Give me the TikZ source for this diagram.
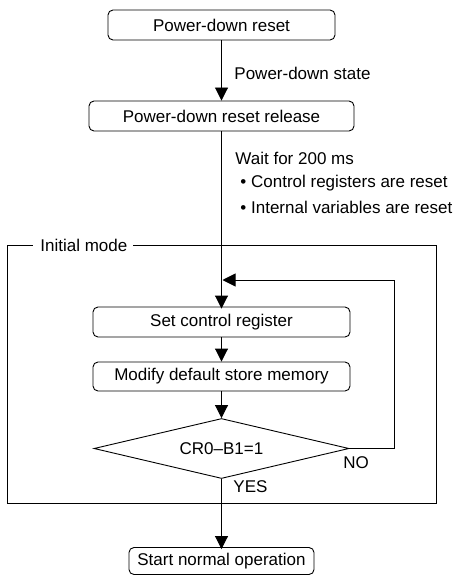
\documentclass[tikz,border=0pt]{standalone}
\usepackage{fontspec}
\setmainfont{Liberation Sans}
\usetikzlibrary{arrows.meta,shapes.geometric}
\begin{document}
\begin{tikzpicture}[x=1pt,y=-1pt,
  font=\fontsize{17}{20}\selectfont,
  every path/.style={line width=0.9pt},
  box/.style={draw,rounded corners=5pt,inner sep=0pt,line width=0.9pt},
  dec/.style={draw,diamond,shape aspect=4.25,inner sep=0pt,minimum width=255pt,minimum height=60pt,line width=0.9pt},
  lbl/.style={anchor=west,inner sep=0pt},
  arr/.style={-{Triangle[length=13pt,width=13pt]}},
]
\useasboundingbox (0,0) rectangle (458,575);
\node[box,minimum width=227pt,minimum height=30pt] (r1) at (221.5,25) {Power-down reset};
\node[box,minimum width=265pt,minimum height=30pt] (r2) at (221.5,116) {Power-down reset release};
\node[box,minimum width=257pt,minimum height=30pt] (r3) at (221.5,322) {Set control register};
\node[box,minimum width=257pt,minimum height=29pt] (r4) at (221.5,376.5) {Modify default store memory};
\node[dec] (d) at (221.5,448.5) {CR0--B1=1};
\node[box,minimum width=185pt,minimum height=27pt] (r5) at (221.5,561) {Start normal operation};

\node[lbl] (l1) at (234,73) {Power-down state};
\node[lbl] (l2) at (235,158) {Wait for 200 ms};
\node[lbl] (l3) at (240,183) {\textbullet\ Control registers are reset};
\node[lbl] (l4) at (240,207) {\textbullet\ Internal variables are reset};
\node[lbl] (im) at (40,245) {Initial mode};
\node[lbl] (no) at (343,463) {NO};
\node[lbl] (yes) at (233,487) {YES};

\coordinate (fa) at (133,245);
\coordinate (fb) at (436,245);
\coordinate (fc) at (436,503);
\coordinate (fd) at (7,503);
\coordinate (fe) at (7,245);
\coordinate (ff) at (33,245);
\draw (fa) -- (fb) -- (fc) -- (fd) -- (fe) -- (ff);

\coordinate (j) at (221.5,280);
\coordinate (nr) at (394,448.5);
\coordinate (nt) at (394,280);

\draw[arr] (r1.south) -- (r2.north);
\draw[arr] (r2.south) -- ([yshift=-2pt]r3.north);
\draw[arr] (r3.south) -- (r4.north);
\draw[arr] (r4.south) -- (d.north);
\draw[arr] (d.south) -- ([yshift=-2pt]r5.north);
\draw[arr] (d.east) -- (nr) -- (nt) -- ([xshift=1pt]j);
\end{tikzpicture}
\end{document}
